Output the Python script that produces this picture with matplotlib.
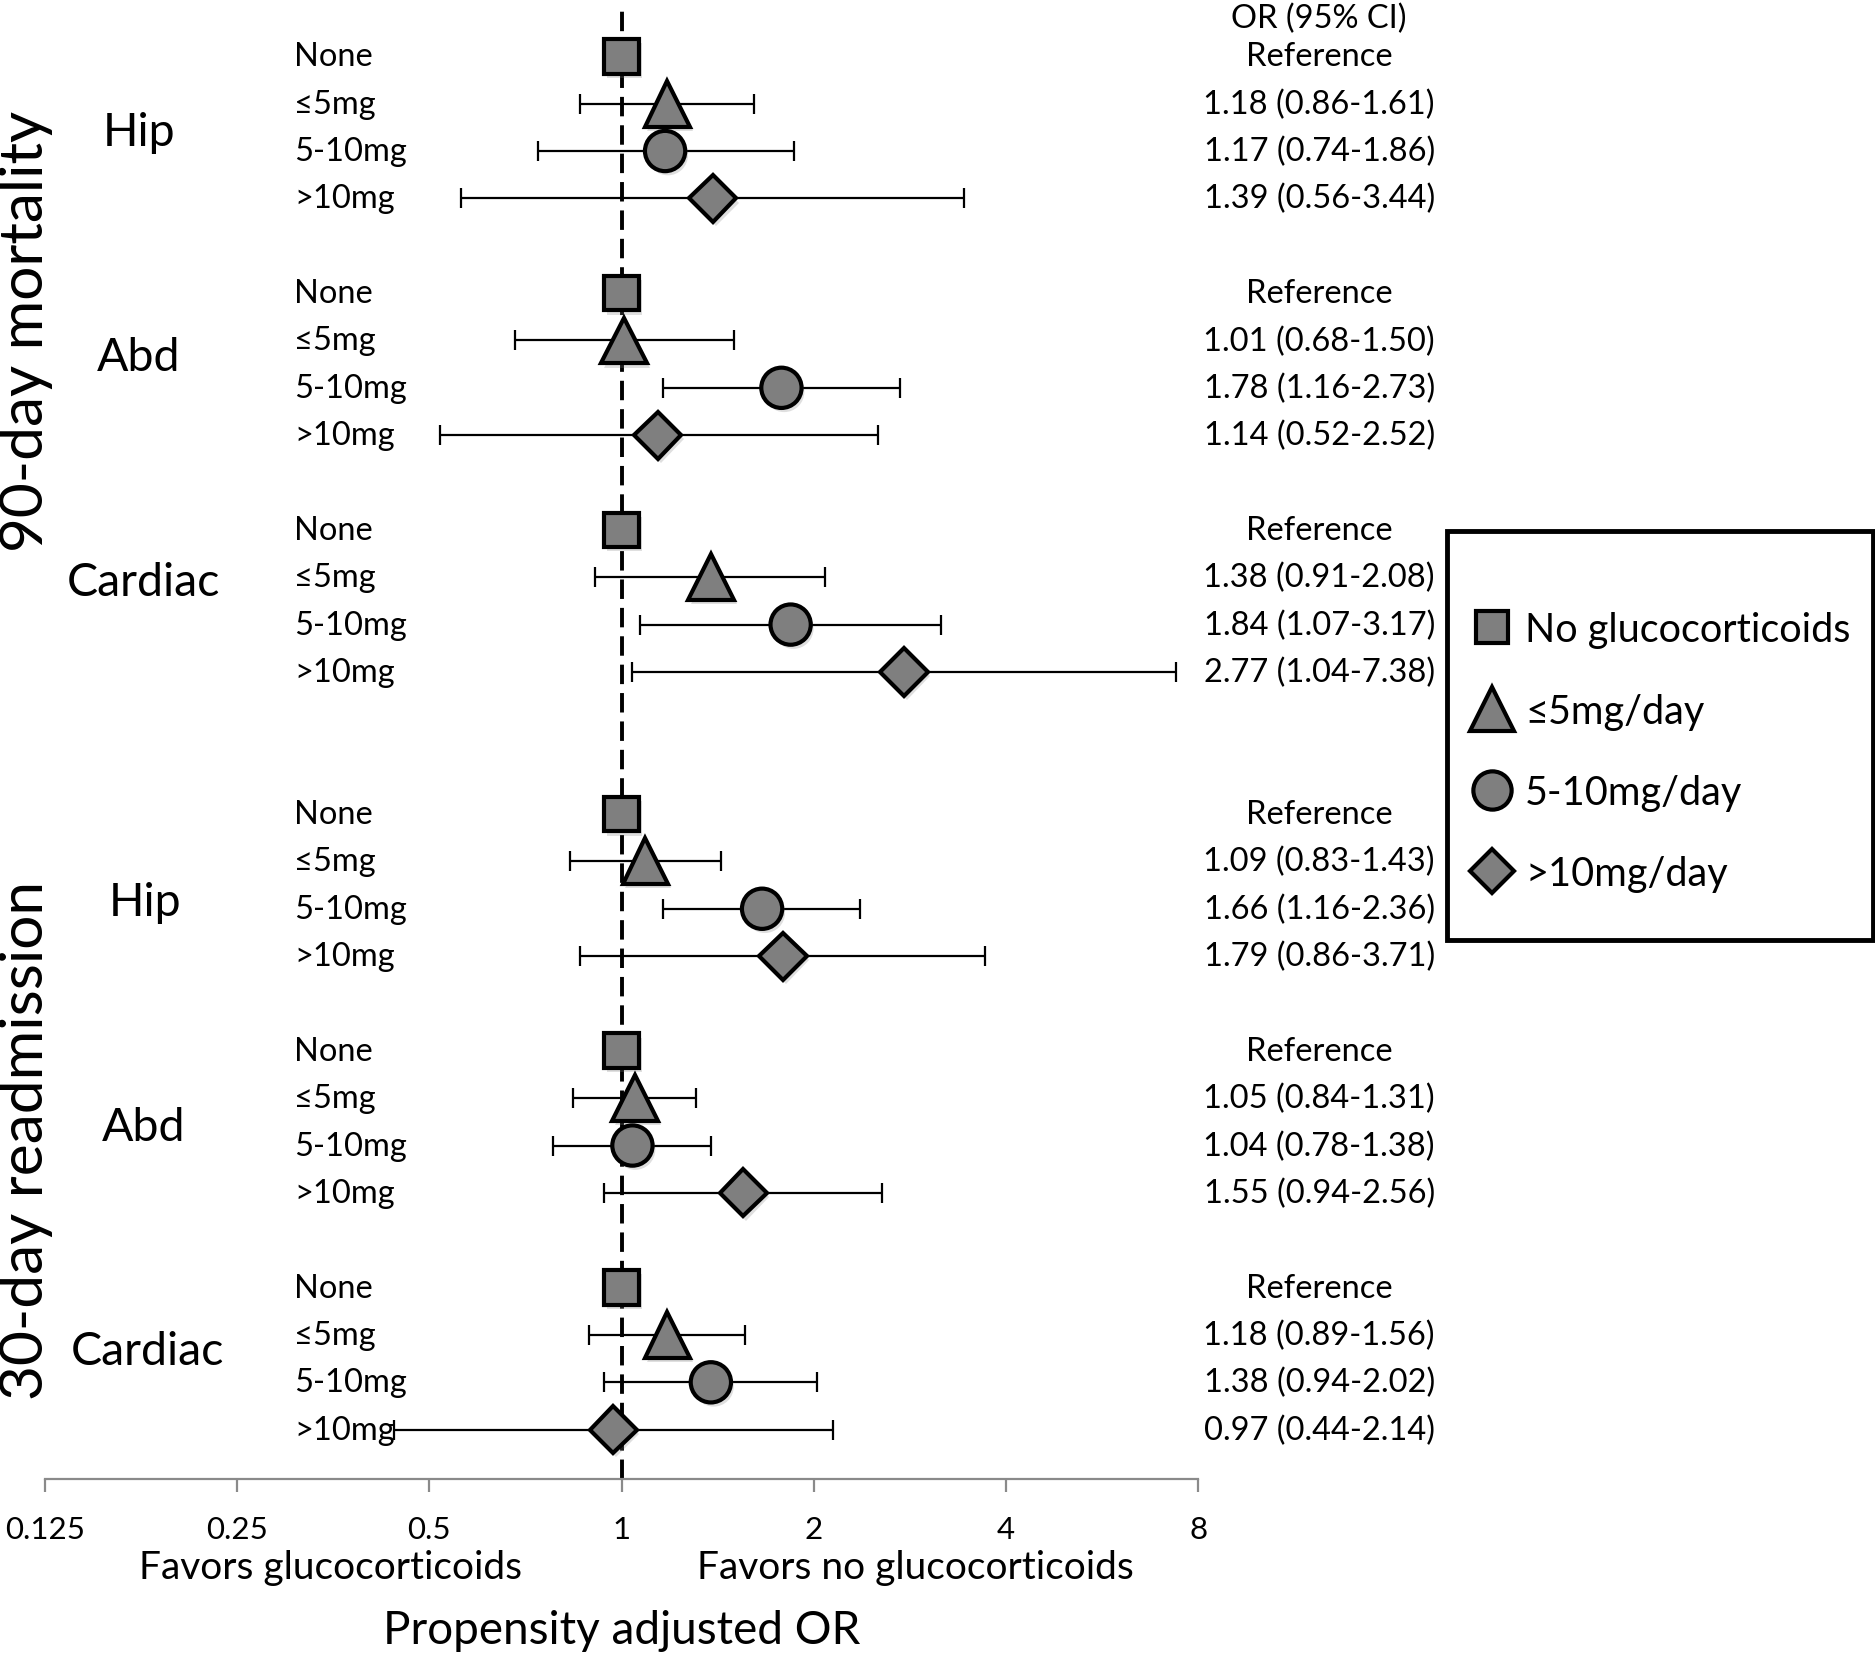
import numpy as np
import matplotlib
matplotlib.use("Agg")
import matplotlib.pyplot as plt
from matplotlib.lines import Line2D
from matplotlib.patches import Rectangle
from matplotlib import patheffects as pe
import matplotlib.transforms as mtransforms

plt.rcParams['font.family'] = ['Lato', 'DejaVu Sans']

sections = ["90-day mortality", "30-day readmission"]
groups = ["Hip", "Abd", "Cardiac", "Hip", "Abd", "Cardiac"]
doses = ["None", "≤5mg", "5-10mg", ">10mg"]
legend_labels = ["No glucocorticoids", "≤5mg/day", "5-10mg/day", ">10mg/day"]

# odds ratios for ≤5mg, 5-10mg, >10mg (None is the reference, OR = 1)
or_vals = [[1.18, 1.17, 1.39], [1.01, 1.78, 1.14], [1.38, 1.84, 2.77],
           [1.09, 1.66, 1.79], [1.05, 1.04, 1.55], [1.18, 1.38, 0.97]]
ci_low = [[0.86, 0.74, 0.56], [0.68, 1.16, 0.52], [0.91, 1.07, 1.04],
          [0.83, 1.16, 0.86], [0.84, 0.78, 0.94], [0.89, 0.94, 0.44]]
ci_high = [[1.61, 1.86, 3.44], [1.50, 2.73, 2.52], [2.08, 3.17, 7.38],
           [1.43, 2.36, 3.71], [1.31, 1.38, 2.56], [1.56, 2.02, 2.14]]
ref_value = 1.0
ticks = [0.125, 0.25, 0.5, 1, 2, 4, 8]
tick_labels = ["0.125", "0.25", "0.5", "1", "2", "4", "8"]

# layout (row units, top to bottom)
group_start = [0, 5, 10, 16, 21, 26]
group_label_dy = [1.59, 1.34, 1.09, 1.86, 1.6, 1.33]
group_label_x = [0.082, 0.0815, 0.0854, 0.0867, 0.0854, 0.089]

markers = ['s', '^', 'o', 'D']
msizes = [25, 33, 29, 24]
face = '#7f7f7f'
shadow = [pe.SimplePatchShadow(offset=(2, -3), alpha=0.25, shadow_rgbFace='gray'), pe.Normal()]

fig = plt.figure(figsize=(18.75, 16.58), dpi=100)
ax = fig.add_axes([0.024, 0.1074, 0.615, 0.8866])

ax.axvline(ref_value, color='k', lw=2.8, ls=(0, (5, 2.3)), zorder=1)

for g, start in enumerate(group_start):
    ax.plot(ref_value, start, marker=markers[0], ms=msizes[0], mfc=face, mec='k',
            mew=3, ls='none', zorder=4, path_effects=shadow)
    for k in range(3):
        y = start + k + 1
        v = or_vals[g][k]
        ax.errorbar(v, y, xerr=[[v - ci_low[g][k]], [ci_high[g][k] - v]], fmt='none',
                    ecolor='k', elinewidth=1.6, capsize=7, capthick=1.6, zorder=2)
        ax.plot(v, y, marker=markers[k + 1], ms=msizes[k + 1], mfc=face, mec='k',
                mew=3, ls='none', zorder=4, path_effects=shadow)

ax.set_xscale('log', base=2)
ax.set_xlim(0.125, 8)
ax.set_ylim(30.04, -1.0)
ax.set_xticks(ticks)
ax.set_xticklabels(tick_labels)
ax.minorticks_off()
ax.set_yticks([])
for s in ['top', 'left', 'right']:
    ax.spines[s].set_visible(False)
ax.spines['bottom'].set_color('#8a8a8a')
ax.spines['bottom'].set_linewidth(1.6)
ax.tick_params(axis='x', direction='out', length=9, width=1.6, color='#8a8a8a',
               labelsize=22.5, pad=17)

trans = mtransforms.blended_transform_factory(ax.transAxes, ax.transData)
for g, start in enumerate(group_start):
    for k, d in enumerate(doses):
        ax.text(0.216, start + k, d, transform=trans, ha='left', va='center',
                fontsize=23.5, zorder=3)
        if k == 0:
            txt = "Reference"
        else:
            txt = "%.2f (%.2f-%.2f)" % (or_vals[g][k - 1], ci_low[g][k - 1], ci_high[g][k - 1])
        ax.text(1.105, start + k, txt, transform=trans, ha='center', va='center',
                fontsize=23.5, clip_on=False)
    ax.text(group_label_x[g], start + group_label_dy[g], groups[g], transform=trans,
            ha='center', va='center', fontsize=33.5)

ax.text(1.105, -0.8, "OR (95% CI)", transform=trans, ha='center', va='center',
        fontsize=23.5, clip_on=False)

fig.text(0.014, 0.80, sections[0], rotation=90, ha='center', va='center', fontsize=43.5)
fig.text(0.014, 0.312, sections[1], rotation=90, ha='center', va='center', fontsize=43.5)

ax.text(0.248, -0.060, "Favors glucocorticoids", transform=ax.transAxes,
        ha='center', va='center', fontsize=28)
ax.text(0.755, -0.060, "Favors no glucocorticoids", transform=ax.transAxes,
        ha='center', va='center', fontsize=28)
ax.text(0.5, -0.103, "Propensity adjusted OR", transform=ax.transAxes,
        ha='center', va='center', fontsize=33)

# legend box
fig.patches.append(Rectangle((0.7717, 0.4325), 0.2272, 0.2467, transform=fig.transFigure,
                             fill=False, edgecolor='k', lw=3.5))
handles = [Line2D([], [], marker=m, ms=s * 0.95, mfc=face, mec='k', mew=3, ls='none')
           for m, s in zip(markers, msizes)]
leg = fig.legend(handles, legend_labels, loc='center left', bbox_to_anchor=(0.7797, 0.546),
                 fontsize=28.5, frameon=False, borderpad=0.3, labelspacing=1.12,
                 handletextpad=0.4, handlelength=0.9, borderaxespad=0)

fig.savefig("out.png", dpi=100)
